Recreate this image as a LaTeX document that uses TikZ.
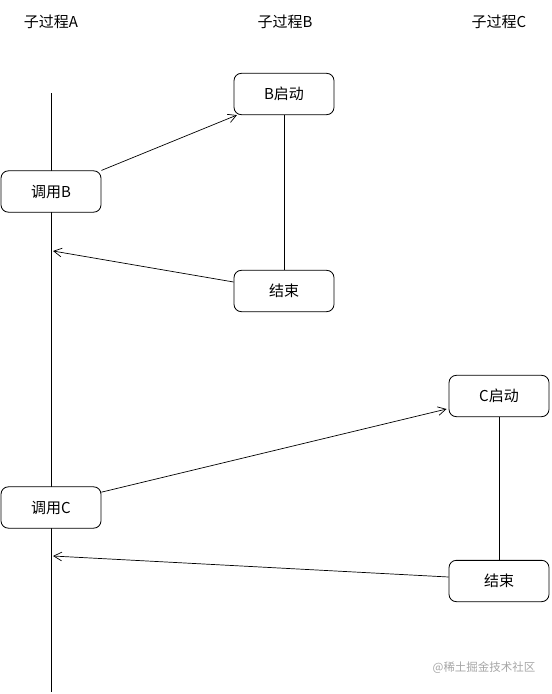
\documentclass[tikz,border=0pt]{standalone}
\usepackage{fontspec}
\usepackage{xcolor}
\usepackage{tikz}
\usetikzlibrary{arrows.meta,positioning}
\newfontfamily\cjk{Noto Sans CJK SC}

\begin{document}
\begin{tikzpicture}[x=0.03cm, y=-0.03cm,
  box/.style={draw, rounded corners=2.2mm, fill=white, line width=0.7pt,
    minimum width=3cm, minimum height=1.24cm, inner sep=0pt, font=\cjk\fontsize{12.8}{15}\selectfont},
  title/.style={font=\cjk\fontsize{12.8}{15}\selectfont},
  life/.style={line width=0.7pt},
  call/.style={line width=0.6pt, -{Straight Barb[length=2.4mm, width=2.6mm]}}
]
\useasboundingbox (0,0) rectangle (551,694);

\node[title] (tA) at (51,22) {子过程A};
\node[title] (tB) at (285,22) {子过程B};
\node[title] (tC) at (499,22) {子过程C};

\coordinate (topA) at (51,93);
\coordinate (botA) at (51,692);
\coordinate (retB) at (53,251);
\coordinate (retC) at (53,556);
\draw[life] (topA) -- (botA);

\node[box] (callB) at (51,191.5) {调用B};
\node[box] (startB) at (284,94) {B启动};
\node[box] (endB) at (284,291) {结束};
\node[box] (callC) at (51,507.5) {调用C};
\node[box] (startC) at (499,396) {C启动};
\node[box] (endC) at (499,581) {结束};

\draw[life] (startB) -- (endB);
\draw[life] (startC) -- (endC);

\draw[call] (callB.north east) -- ([xshift=1mm]startB.south west);
\draw[call] ([yshift=2.7mm]endB.west) -- (retB);
\draw[call] ([yshift=4.6mm]callC.east) -- ([xshift=-0.6mm, yshift=-3.9mm]startC.west);
\draw[call] ([yshift=1.2mm]endC.west) -- (retC);

\node[font=\cjk\fontsize{9.8}{12}\selectfont, text=black!35] (mark) at (484,668) {@稀土掘金技术社区};
\end{tikzpicture}
\end{document}
